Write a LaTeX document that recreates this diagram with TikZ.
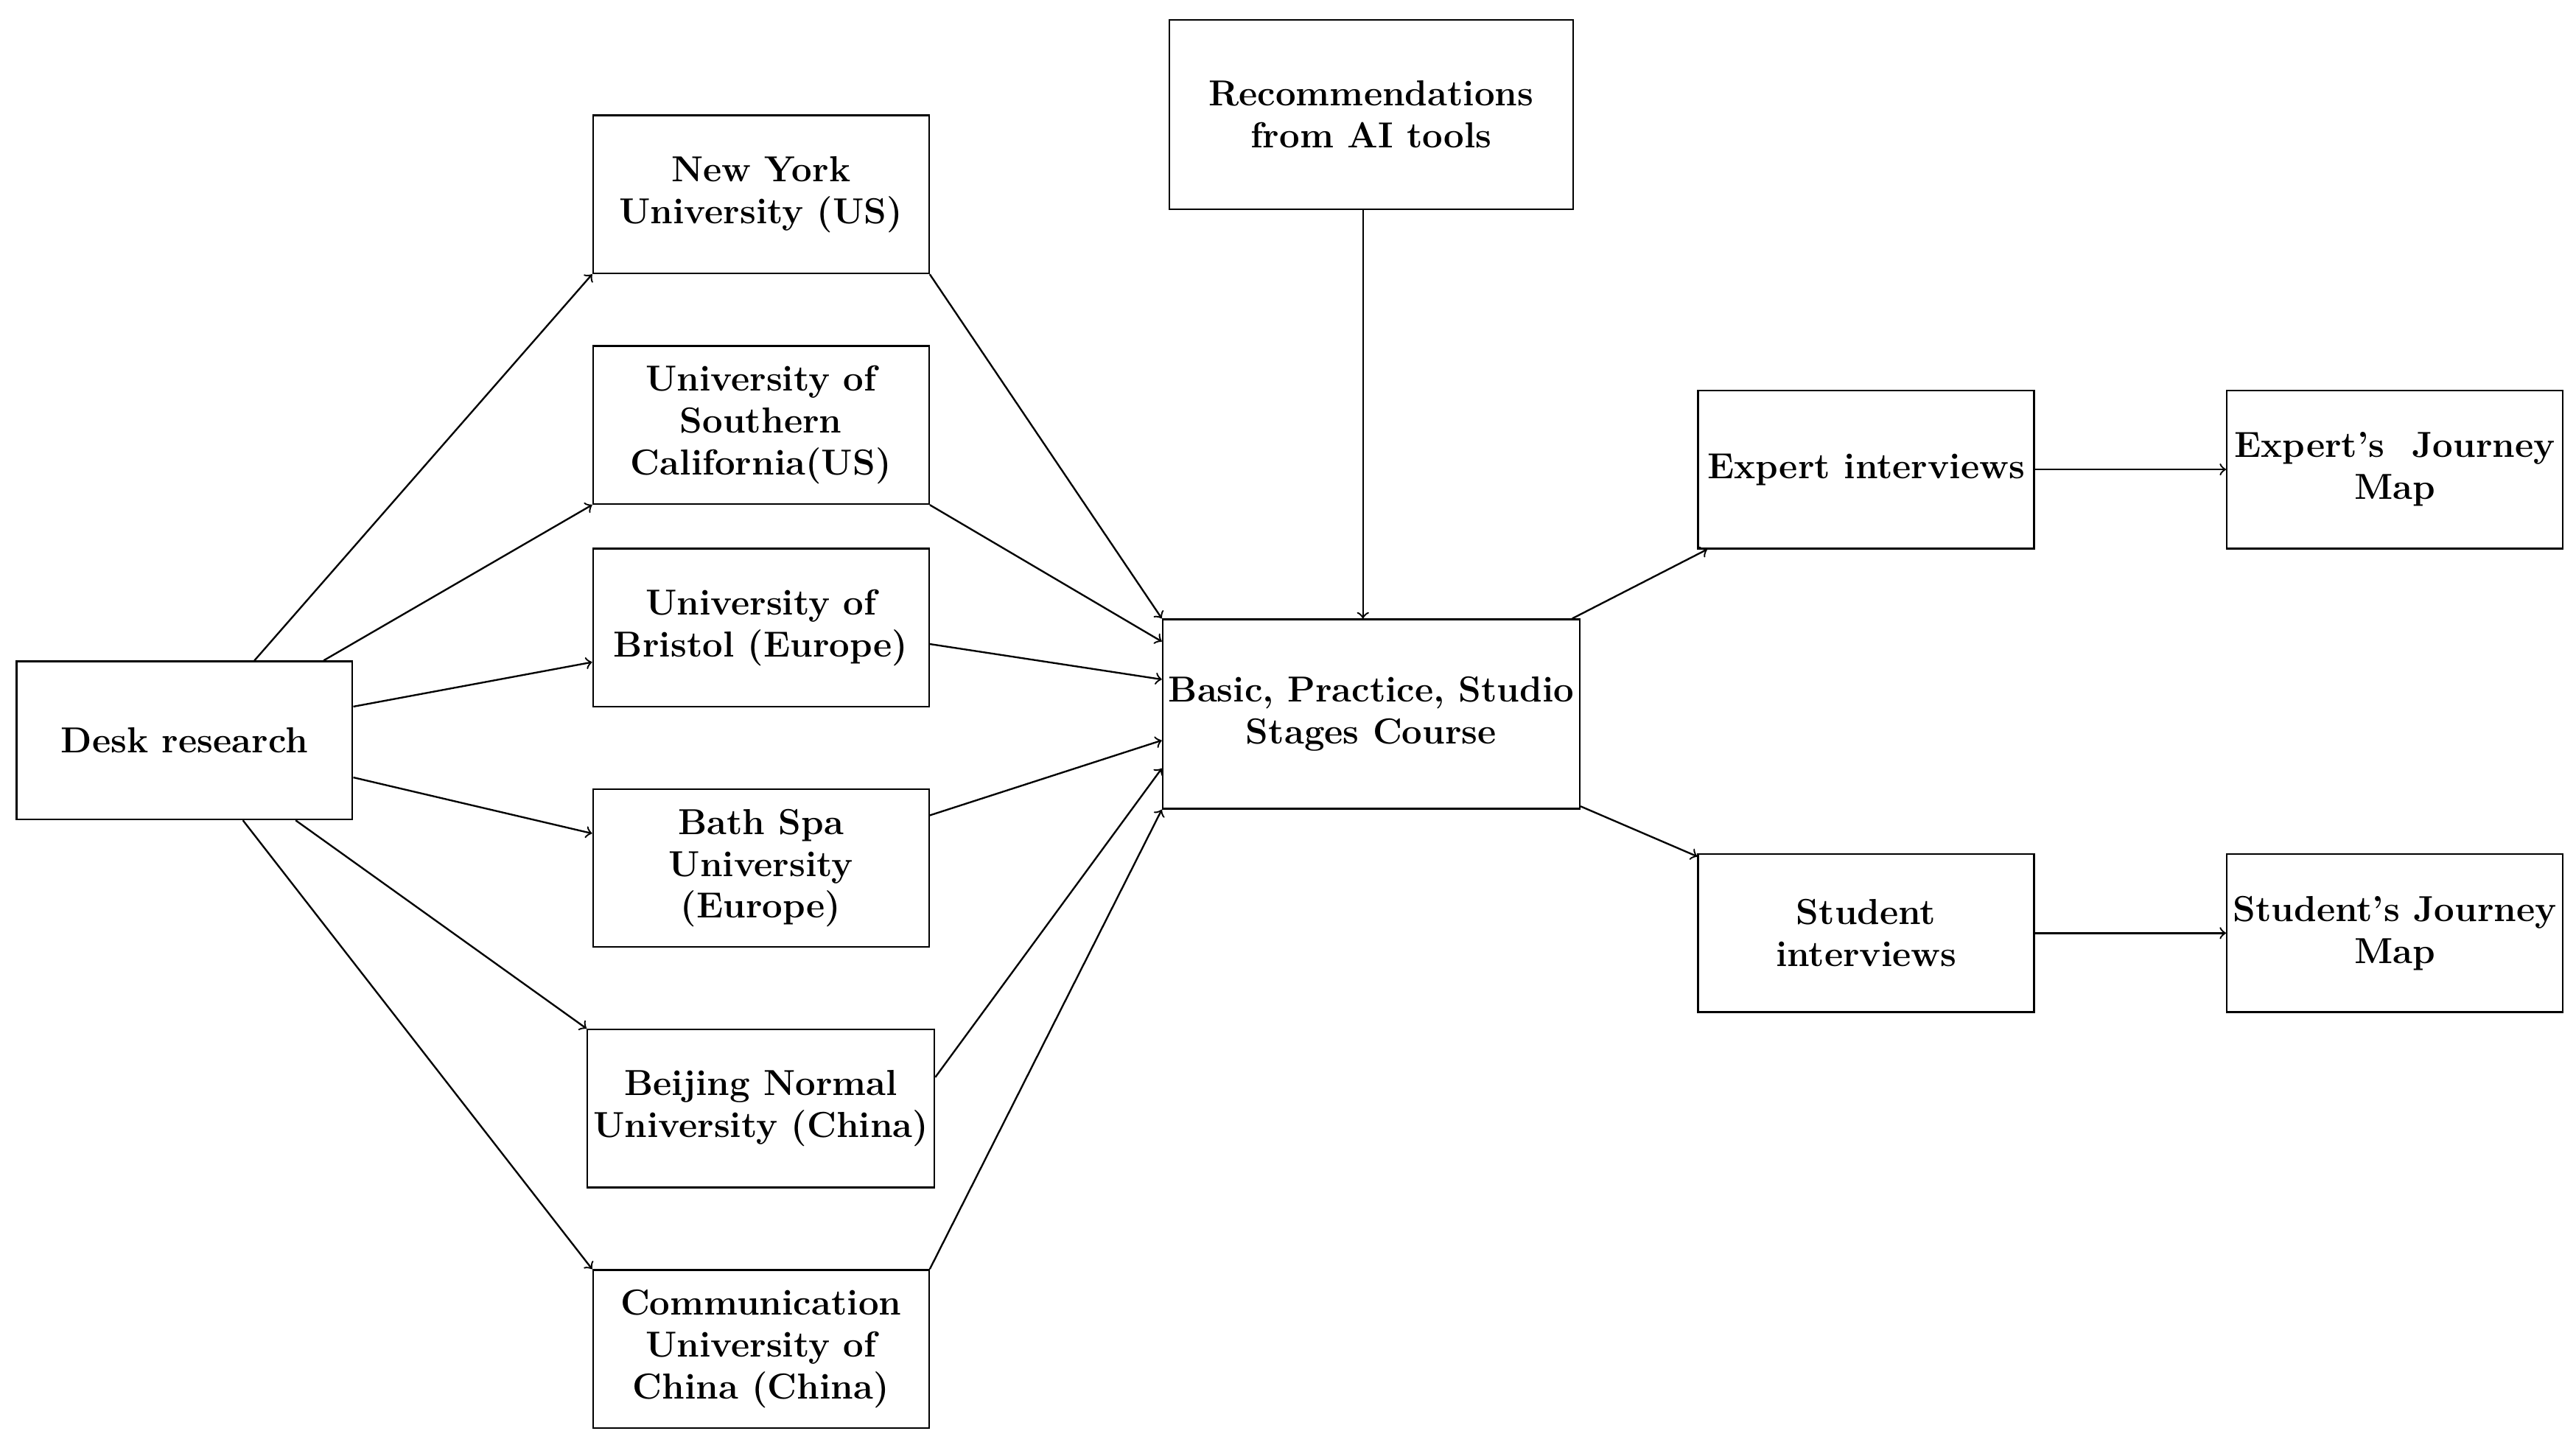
\documentclass[tikz,border=0pt]{standalone}
\usetikzlibrary{calc}
\begin{document}
\begin{tikzpicture}[x=0.02cm,y=-0.02cm,
  box/.style={draw,line width=0.6pt,minimum width=4.08cm,minimum height=1.92cm,align=center,inner sep=2pt,
    font=\fontsize{12.5}{14.5}\selectfont\bfseries},
  big/.style={box,minimum width=4.9cm,minimum height=2.3cm},
  ar/.style={->,line width=0.6pt,>=to}]
\useasboundingbox (0,0) rectangle (1564,877);
\node[box] (desk) at (112,449.5) {Desk research};
\node[box] (nyu) at (462,118) {New York\\University (US)};
\node[box] (usc) at (462,258) {University of\\Southern\\California(US)};
\node[box] (bri) at (462,381) {University of\\Bristol (Europe)};
\node[box] (bath) at (462,527) {Bath Spa\\University\\(Europe)};
\node[box] (bei) at (462,673) {Beijing Normal\\University (China)};
\node[box] (cuc) at (462,819) {Communication\\University of\\China (China)};
\node[big] (ai) at (832.5,69.5) {Recommendations\\from AI tools};
\node[big] (ctr) at (832.5,433.5) {Basic, Practice, Studio\\Stages Course};
\node[box] (exp) at (1133,285) {Expert interviews};
\node[box] (stu) at (1133,566.5) {Student\\interviews};
\node[box] (expm) at (1454,285) {Expert's~ Journey\\Map};
\node[box] (stum) at (1454,566.5) {Student's Journey\\Map};
% desk to universities
\draw[ar] ($(desk.north west)+(145,0)$) -- (nyu.south west);
\draw[ar] ($(desk.north west)+(187,0)$) -- (usc.south west);
\draw[ar] ($(desk.north east)+(0,28)$) -- ($(bri.west)+(0,21)$);
\draw[ar] ($(desk.north east)+(0,71)$) -- ($(bath.west)+(0,-21)$);
\draw[ar] ($(desk.south west)+(170,0)$) -- (bei.north west);
\draw[ar] ($(desk.south west)+(138,0)$) -- (cuc.north west);
% universities to centre
\draw[ar] (nyu.south east) -- (ctr.north west);
\draw[ar] (usc.south east) -- ($(ctr.north west)+(0,14)$);
\draw[ar] ($(bri.east)+(0,10)$) -- ($(ctr.north west)+(0,37)$);
\draw[ar] ($(bath.east)+(0,-32)$) -- ($(ctr.north west)+(0,74)$);
\draw[ar] ($(bei.east)+(0,-19)$) -- ($(ctr.north west)+(0,91)$);
\draw[ar] (cuc.north east) -- (ctr.south west);
\draw[ar] ($(ai.south)+(-5,0)$) -- ($(ctr.north)+(-5,0)$);
\draw[ar] ($(ctr.north east)+(-5,0)$) -- ($(exp.south west)+(6,0)$);
\draw[ar] ($(ctr.south east)+(0,-2)$) -- ($(stu.north west)+(0,2)$);
\draw[ar] (exp) -- (expm);
\draw[ar] (stu) -- (stum);
\end{tikzpicture}
\end{document}
